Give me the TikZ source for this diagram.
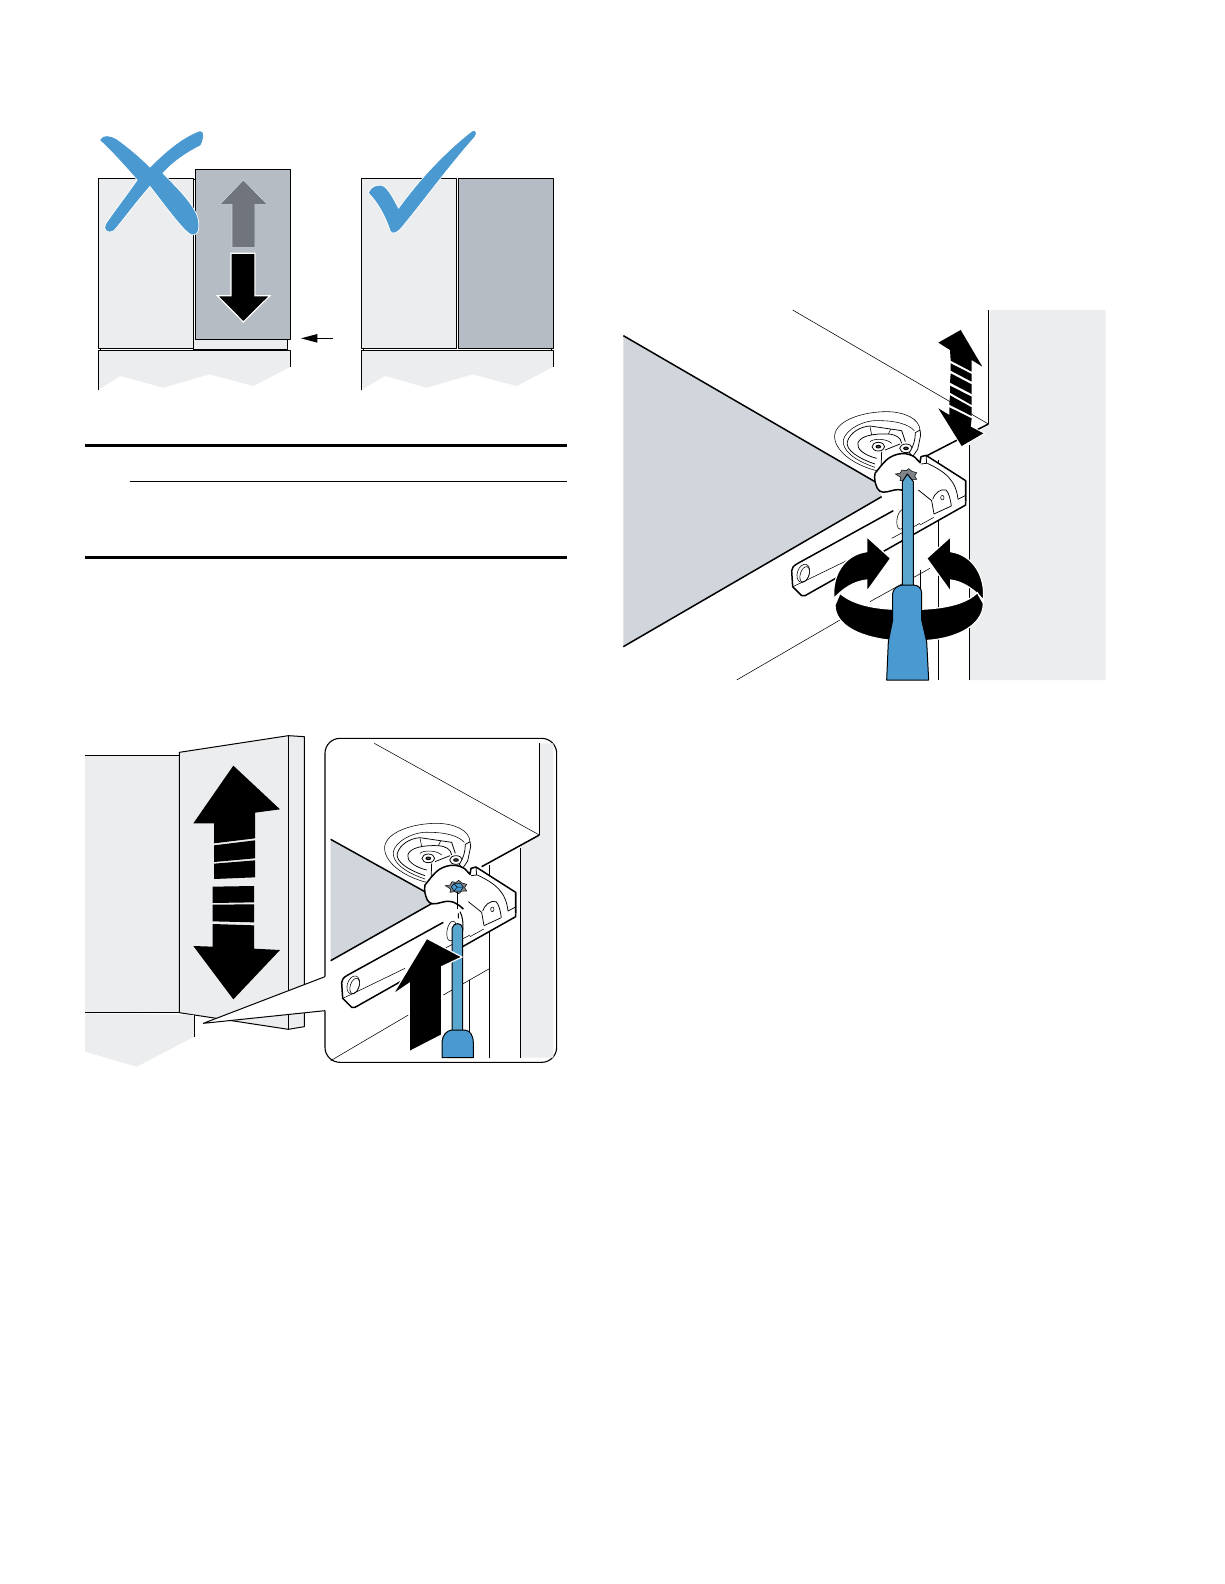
\documentclass[tikz,border=0pt]{standalone}
\definecolor{panel}{HTML}{EBEDEE}
\definecolor{door}{HTML}{B5BCC3}
\definecolor{wedge}{HTML}{D0D6DC}
\definecolor{tool}{HTML}{4A9AD1}
\definecolor{toollt}{HTML}{5BA6CF}
\definecolor{ghost}{HTML}{70747C}
\tikzset{
 zoomunits/.style={x=0.33333pt,y=-0.33333pt},
 ln/.style={draw=black,line width=1pt,line join=round},
 camline/.style={draw=black,line width=0.75pt,line join=round},
 hair/.style={draw=black,line width=0.55pt,line join=round},
 boldline/.style={draw=black,line width=1.5pt,line join=round},
 rulebold/.style={draw=black,line width=2.8pt},
 bluemark/.style={preaction={draw=white,line width=2.4pt,line join=round},fill=tool,draw=tool,line width=0.8pt,line join=round},
 blk/.style={fill=black,draw=white,line width=1.2pt,line join=miter},
 halo/.style={preaction={draw=white,line width=2pt,line join=miter},fill=black},
}
\newcommand{\starplate}{%
 \fill[door!70!black,draw=black,line width=0.5pt] (226,242) -- (240,240) -- (246,230) -- (258,232) -- (266,226) -- (276,234) -- (290,238) -- (284,248) -- (290,258) -- (276,258) -- (266,266) -- (254,260) -- (240,262) -- (242,252) -- cycle;
}
\newcommand{\hingepart}{%
 % rail
 \path[fill=white] (-70,512) -- (220,345) -- (437,262) -- (437,335) -- (-52,607) -- (-82,580) -- (-85,530) -- cycle;
 \draw[boldline] (-70,512) -- (220,352);
 \draw[boldline] (-70,512) .. controls (-80,518) and (-85,525) .. (-85,533) -- (-82,580) -- (-55,607) -- (-45,607) -- (437,335) -- (437,262);
 \draw[hair] (-82,580) -- (-60,570) -- (105,490);
 \draw[hair] (215,435) -- (300,390);
 \draw[hair] (300,395) -- (432,322);
 \draw[hair,rotate around={-18:(-50,540)}] (-50,540) ellipse (18 and 28);
 \draw[hair,rotate around={-18:(-46,543)}] (-46,543) ellipse (13 and 24);
 \draw[hair,fill=white,rotate around={-10:(245,378)}] (245,378) ellipse (14 and 30);
 % cam plate
 \path[fill=white] (170,232) .. controls (100,215) and (40,170) .. (44,125) .. controls (50,80) and (130,55) .. (200,55) .. controls (250,55) and (300,75) .. (300,110) -- (290,200) -- cycle;
 \draw[hair] (170,232) .. controls (100,215) and (40,170) .. (44,125) .. controls (50,80) and (130,55) .. (200,55) .. controls (250,55) and (300,75) .. (300,112);
 \draw[hair] (165,222) .. controls (100,200) and (66,170) .. (70,140) .. controls (76,110) and (130,78) .. (180,82) .. controls (225,82) and (265,92) .. (283,112);
 \draw[camline] (165,212) .. controls (115,195) and (76,170) .. (82,145) .. controls (90,118) and (120,100) .. (150,98) -- (245,112) -- (256,145);
 \draw[camline] (170,195) .. controls (130,185) and (108,165) .. (114,148) .. controls (122,128) and (160,120) .. (205,122) .. controls (228,124) and (242,132) .. (245,150);
 \draw[hair] (150,100) -- (155,125);
 \draw[hair] (212,108) -- (205,122);
 \draw[hair] (150,145) .. controls (160,135) and (200,135) .. (215,150);
 \draw[camline] (195,170) -- (240,152);
 \draw[camline] (185,175) -- (183,228);
 \draw[camline,fill=white] (175,160) ellipse (19 and 13);
 \draw[line width=0.9pt,fill=black!70] (175,160) ellipse (7 and 4);
 \draw[camline,fill=white] (258,165) ellipse (19 and 13);
 \draw[line width=0.9pt,fill=black!70] (258,165) ellipse (7 and 4);
 \draw[camline,fill=white] (286,118) -- (300,110) -- (302,125) -- (293,168) -- (278,190) -- (268,178) .. controls (280,160) and (286,140) .. (286,118) -- cycle;
 % bracket body
 \path[fill=white] (165,240) .. controls (178,225) and (190,205) .. (210,192) .. controls (235,178) and (262,176) .. (285,192) -- (300,208) -- (306,185) -- (320,190) -- (437,262) -- (437,325) -- (345,375) -- (280,320) .. controls (262,300) and (245,285) .. (215,292) .. controls (195,298) and (180,300) .. (172,285) .. controls (165,270) and (162,255) .. (165,240) -- cycle;
 \draw[boldline] (165,240) .. controls (178,225) and (190,205) .. (210,192) .. controls (235,178) and (262,176) .. (285,192) -- (300,208) -- (303,190) -- (318,186) -- (437,262) -- (437,325);
 \draw[boldline] (165,240) .. controls (162,255) and (165,270) .. (172,285) .. controls (180,300) and (195,298) .. (215,292) .. controls (245,283) and (262,295) .. (280,312);
 \draw[camline] (318,186) -- (320,210) -- (303,212);
 \draw[camline] (322,210) .. controls (375,235) and (408,260) .. (414,318);
 \draw[camline] (414,318) -- (437,306);
 \draw[camline] (295,290) -- (335,322) -- (342,362);
 \draw[camline] (338,318) .. controls (342,302) and (362,284) .. (378,290) .. controls (386,296) and (392,320) .. (394,338);
 \draw[hair] (367,313) ellipse (5 and 7);
 \draw[camline] (342,362) -- (394,338);
}
\begin{document}
\begin{tikzpicture}[x=1pt,y=-1pt]
\useasboundingbox (0,0) rectangle (1224,1584);
\fill[white] (0,0) rectangle (1224,1584);
% ========== top figures
\begin{scope}[shift={(80,120)},zoomunits]
 % X figure
 \fill[panel] (340,650) rectangle (623,690);
 \draw[ln,fill=panel] (55,175) rectangle (340,685);
 \draw[ln] (623,658) -- (623,692);
 \draw[ln] (340,690) -- (623,690);
 \draw[hair] (60,685) -- (60,692);
 \path[fill=panel] (55,692) -- (632,692) -- (632,740) -- (520,798) -- (388,763) -- (250,803) -- (120,768) -- (55,810) -- cycle;
 \draw[ln] (55,810) -- (55,692) -- (632,692) -- (632,740);
 \draw[ln,fill=door] (347,148) rectangle (632,658);
 \draw[ln] (340,180) -- (347,180);
 \fill[ghost,draw=door!70!white,line width=0.6pt] (490,180) -- (562,253) -- (525,253) -- (525,382) -- (456,382) -- (456,253) -- (420,253) -- cycle;
 \path[blk] (490,606) -- (570,527) -- (525,527) -- (525,400) -- (453,400) -- (453,527) -- (412,527) -- cycle;
 \path[bluemark] (62,60) .. controls (70,45) and (90,48) .. (110,60) .. controls (145,85) and (180,115) .. (210,145) .. controls (255,100) and (305,55) .. (360,35) .. controls (372,35) and (370,55) .. (360,75) .. controls (320,95) and (275,125) .. (245,160) .. controls (290,205) and (335,250) .. (350,290) .. controls (358,320) and (355,345) .. (335,342) .. controls (310,330) and (250,245) .. (210,195) .. controls (170,240) and (130,295) .. (100,330) .. controls (85,340) and (70,328) .. (80,312) .. controls (105,275) and (140,230) .. (175,180) .. controls (140,140) and (100,95) .. (62,60) -- cycle;
 % check figure
 \draw[ln,fill=panel] (844,175) rectangle (1130,685);
 \draw[ln,fill=door] (1136,175) rectangle (1420,685);
 \draw[hair] (850,685) -- (850,692) (1414,685) -- (1414,692);
 \path[fill=panel] (844,692) -- (1420,692) -- (1420,740) -- (1310,798) -- (1178,763) -- (1040,803) -- (915,768) -- (844,810) -- cycle;
 \draw[ln] (844,810) -- (844,692) -- (1420,692) -- (1420,740);
 \path[bluemark] (868,218) .. controls (875,200) and (900,190) .. (915,205) .. controls (930,220) and (945,250) .. (955,270) .. controls (1020,180) and (1100,95) .. (1178,35) .. controls (1186,32) and (1190,40) .. (1182,50) .. controls (1110,130) and (1030,240) .. (962,322) .. controls (950,335) and (940,342) .. (933,332) .. controls (920,290) and (895,245) .. (868,218) -- cycle;
 % small pointer
 \draw[ln] (700,655) -- (758,655);
 \fill (663,655) -- (712,642) -- (712,668) -- cycle;
 % rules
 \draw[rulebold] (15,976) -- (1461,976);
 \draw[line width=1pt] (150,1084) -- (1461,1084);
 \draw[rulebold] (15,1312) -- (1461,1312);
\end{scope}
% ========== lower left figure
\begin{scope}[shift={(80,720)},zoomunits]
 \fill[panel] (15,105) -- (298,105) -- (298,877) -- (15,877) -- cycle;
 \draw[ln] (15,105) -- (298,105);
 \fill[panel] (298,97) -- (625,47) -- (673,50) -- (673,920) -- (625,928) -- (298,878) -- cycle;
 \draw[ln] (298,878) -- (298,97) -- (625,47) -- (673,50) -- (673,920) -- (625,928) -- cycle;
 \draw[ln] (625,47) -- (625,928);
 \fill[panel] (15,880) -- (343,885) -- (343,950) -- (170,1040) -- (15,995) -- cycle;
 \draw[ln] (15,877) -- (298,877);
 \draw[ln] (343,885) -- (343,950);
 % big double arrow
 \fill (460,137) -- (600,268) -- (525,278) -- (525,355) -- (402,370) -- (402,310) -- (340,310) -- cycle;
 \fill (402,376) -- (525,361) -- (525,415) -- (402,426) -- cycle;
 \fill (402,431) -- (525,421) -- (525,472) -- (402,477) -- cycle;
 \fill (398,500) -- (522,498) -- (522,547) -- (398,549) -- cycle;
 \fill (398,554) -- (522,553) -- (522,607) -- (398,604) -- cycle;
 \fill (398,612) -- (522,616) -- (522,686) -- (600,690) -- (460,838) -- (340,678) -- (398,680) -- cycle;
 % callout
 \path[fill=white] (370,910) -- (735,770) -- (735,872) -- cycle;
 \draw[ln] (735,770) -- (370,910) -- (735,872);
 \draw[line width=1.1pt,fill=white,rounded corners=15pt] (735,770) -- (735,55) -- (1430,55) -- (1430,1027) -- (735,1027) -- (735,872);
 \path[fill=panel] (1378,70) -- (1420,70) -- (1420,1013) -- (1322,1013) -- (1322,380) -- (1378,345) -- cycle;
 \draw[hair] (883,70) -- (1378,345);
 \draw[ln] (1378,70) -- (1378,345);
 \draw[ln] (1322,385) -- (1322,1013);
 \draw[ln] (1228,435) -- (1228,1013);
 \draw[ln] (1168,780) -- (1168,940);
 \draw[hair] (752,1022) -- (985,885);
 \draw[hair] (1090,825) -- (1230,745);
 \path[fill=wedge] (752,360) -- (1040,520) -- (1060,548) -- (752,722) -- cycle;
 \draw[boldline] (752,358) -- (1040,518);
 \draw[boldline] (752,722) -- (1060,548);
 \draw[boldline] (1378,345) -- (1205,440);
 \begin{scope}[shift={(870,255)}]
  \hingepart
  \starplate
  \fill[tool,draw=black,line width=0.5pt] (252,236) -- (272,236) -- (280,246) -- (272,258) -- (252,258) -- (244,246) -- cycle;
  \draw[black,line width=0.5pt] (262,246) -- (252,236) (262,246) -- (280,246) (262,246) -- (252,258);
  \draw[line width=0.7pt] (262,262) -- (262,312);
  \draw[line width=1pt] (265,325) -- (265,340) (270,320) .. controls (278,335) and (280,350) .. (278,380);
 \end{scope}
 % screwdriver
 \draw[ln,fill=toollt] (1116,940) -- (1116,625) .. controls (1120,606) and (1146,606) .. (1148,625) -- (1148,940) -- cycle;
 \draw[ln,fill=tool] (1086,1013) -- (1086,965) .. controls (1088,945) and (1100,932) .. (1115,930) -- (1155,930) .. controls (1170,932) and (1180,945) .. (1180,970) -- (1180,1013) -- cycle;
 \path[blk] (1040,655) -- (1146,711) -- (1085,740) -- (1085,945) -- (988,995) -- (988,790) -- (938,824) -- cycle;
\end{scope}
% ========== right figure
\begin{scope}[shift={(610,300)},zoomunits]
 \path[fill=panel] (1140,30) -- (1487,30) -- (1487,1140) -- (1078,1140) -- (1078,410) -- (1135,372) -- cycle;
 \path[fill=wedge] (40,107) -- (800,548) -- (815,590) -- (40,1040) -- cycle;
 \draw[boldline] (40,107) -- (800,548);
 \draw[boldline] (40,1040) -- (815,590);
 \draw[hair] (548,30) -- (1135,372);
 \draw[line width=1.3pt] (1135,30) -- (1135,372);
 \draw[boldline] (1135,372) -- (945,470);
 \draw[ln] (1078,435) -- (1078,1140);
 \draw[ln] (985,480) -- (985,1140);
 \draw[ln] (930,810) -- (930,880);
 \draw[hair] (380,1140) -- (690,960);
 \draw[hair] (780,905) -- (960,805);
 \begin{scope}[shift={(630,280)}]
  \hingepart
  \starplate
 \end{scope}
 % screwdriver
 \draw[ln,fill=toollt] (877,860) -- (877,545) -- (892,522) -- (910,545) -- (910,860) -- cycle;
\end{scope}
% rotate arrows, screwdriver handle and small double arrow
\begin{scope}[shift={(820,520)},zoomunits]
 \path[blk] (42,235) .. controls (35,170) and (70,105) .. (140,95) -- (140,50) -- (212,115) -- (140,215) -- (140,180) .. controls (100,185) and (70,205) .. (42,235) -- cycle;
 \path[blk] (490,240) .. controls (497,170) and (460,105) .. (392,95) -- (392,50) -- (320,115) -- (392,215) -- (392,180) .. controls (430,185) and (465,210) .. (490,240) -- cycle;
 \path[blk] (60,220) .. controls (95,250) and (150,265) .. (225,268) -- (225,362) .. controls (130,355) and (45,320) .. (45,255) -- cycle;
 \path[blk] (472,218) .. controls (440,250) and (380,265) .. (300,268) -- (305,362) .. controls (400,360) and (490,320) .. (490,250) -- cycle;
 \draw[ln,fill=tool] (200,480) -- (205,365) -- (218,300) -- (218,220) .. controls (220,205) and (235,195) .. (250,195) -- (280,195) .. controls (295,195) and (305,205) .. (305,220) -- (305,300) -- (320,365) -- (326,480) -- cycle;
\end{scope}
\begin{scope}[shift={(920,320)},zoomunits]
 \path[halo] (122,30) -- (187,140) -- (155,120) -- (155,155) -- (92,122) -- (90,90) -- (55,68) -- cycle;
 \fill (92,130) -- (155,162) -- (155,185) -- (92,152) -- cycle;
 \fill (92,160) -- (155,193) -- (155,222) -- (90,188) -- cycle;
 \fill (90,197) -- (155,230) -- (155,255) -- (90,218) -- cycle;
 \fill (90,226) -- (155,262) -- (155,288) -- (88,254) -- cycle;
 \path[halo] (88,262) -- (155,295) -- (152,320) -- (190,340) -- (125,378) -- (55,265) -- (88,285) -- cycle;
\end{scope}
\end{tikzpicture}
\end{document}
